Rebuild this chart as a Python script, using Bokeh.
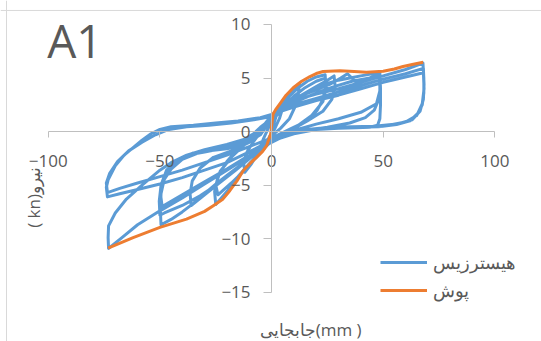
import math
from bokeh.plotting import figure
from bokeh.models import (LinearAxis, FixedTicker, Range1d, Label, Span,
                          Legend, LegendItem)
from bokeh.embed import file_html
from bokeh.resources import INLINE

# ---------------- data ----------------
series_names = ["هیسترزیس", "پوش"]
chart_label = "A1"
x_title = "جابجایی(mm )"
y_title = "( kn)نیرو"
x_ticks = [-100, -50, 0, 50, 100]
y_ticks = [-15, -10, -5, 0, 5, 10]

# hysteresis (displacement mm, force kn), cycle by cycle
c1_x = [0, 2, 4, 5.5, 5, 3.5, 1.5, -1, -3, -5.5, -5, -3.5, -1.5, 0]
c1_y = [0, 1.4, 2.4, 3.0, 2.2, 1.2, 0.3, -0.5, -1.3, -2.1, -1.4, -0.6, 0.3, 0.9]
c2_x = [2, 5, 8, 11, 12.5, 12, 10.5, 8, 4, 0, -3, -6, -9, -12, -12.5, -11, -8, -4, 0]
c2_y = [1.8, 2.8, 3.6, 4.2, 4.5, 3.5, 2.3, 1.2, 0.3, -0.4, -1.0, -2.0, -3.0, -3.8, -2.9, -1.9, -0.9, 0.2, 1.0]
c3_x = [4, 8, 12, 16, 20, 24, 24.3, 23, 20.5, 16, 10, 5, 0, -5, -10, -15, -20, -25, -25.5, -24, -20, -15, -10, -5, 0]
c3_y = [2.3, 3.3, 4.1, 4.7, 5.1, 5.3, 4.3, 3.0, 2.0, 1.0, 0.3, -0.3, -0.9, -1.9, -3.0, -4.2, -5.6, -6.8, -5.6, -4.2, -2.8, -1.6, -0.6, 0.4, 1.2]
c3b_x = [5, 10, 15, 20, 24, 24.5, 23, 18, 12, 6, 0, -6, -12, -18, -24, -25, -23, -18, -12, -6, 0]
c3b_y = [2.3, 3.3, 4.1, 4.7, 5.0, 4.1, 2.8, 1.5, 0.6, -0.2, -0.8, -2.2, -3.6, -4.8, -5.9, -5.0, -3.7, -2.4, -1.2, 0.1, 1.1]
c3c_x = [5, 10, 15, 20, 25, 28, 28.5, 27, 23, 16, 8, 0, -6, -12, -18, -24, -30, -36, -36.5, -35.5, -32, -26, -18, -10, -4, 0]
c3c_y = [2.0, 2.9, 3.6, 4.2, 4.8, 5.2, 4.2, 3.0, 1.9, 1.0, 0.2, -0.6, -1.8, -2.9, -3.9, -4.9, -5.9, -6.9, -5.8, -4.6, -3.4, -2.4, -1.8, -1.0, 0.1, 1.1]
c4_x = [5, 10, 15, 20, 25, 30, 35, 40, 45, 48.5, 48.8, 48.8, 48.5, 47.5, 44, 38, 30, 20, 10, 4, 0,
        -5, -10, -15, -20, -25, -30, -35, -40, -45, -49.5, -49.8, -49.5, -48, -45, -40, -35, -30, -25, -20, -15, -10, -6, -3, 0]
c4_y = [2.3, 3.0, 3.6, 4.1, 4.5, 4.8, 5.0, 5.2, 5.4, 5.5, 4.0, 2.5, 1.2, 0.6, 0.4, 0.35, 0.3, 0.2, -0.2, -0.6, -0.9,
        -1.7, -2.5, -3.3, -4.1, -4.9, -5.8, -6.7, -7.5, -8.2, -8.7, -7.4, -5.8, -4.4, -3.2, -2.5, -2.1, -1.9, -1.7, -1.4, -1.1, -0.8, -0.2, 0.5, 1.3]
c4b_x = [4, 8, 14, 20, 26, 31, 34, 36, 38, 42, 45, 48.5, 48.7, 48, 46, 42, 35, 25, 15, 6, 0,
         -10, -20, -30, -40, -49, -49.7, -48.5, -45, -40, -33, -25, -15, -8, -3, 0]
c4b_y = [2.2, 2.8, 3.4, 3.9, 4.4, 5.0, 5.4, 5.0, 4.6, 4.8, 5.1, 5.3, 4.2, 3.0, 2.0, 1.3, 0.8, 0.4, 0.1, -0.4, -0.8,
         -2.2, -3.5, -4.7, -5.9, -7.0, -5.9, -4.6, -3.5, -2.6, -2.0, -1.7, -1.3, -0.7, 0.4, 1.4]
c4c_x = [5, 12, 20, 28, 36, 44, 48.5, 48.5, 47, 40, 30, 20, 10, 3, 0,
         -8, -16, -24, -32, -40, -48, -50, -50.3, -49.5, -47, -42, -35, -28, -20, -12, -5, 0]
c4c_y = [2.0, 2.9, 3.6, 4.2, 4.7, 5.0, 5.2, 3.8, 2.6, 1.8, 1.2, 0.7, 0.1, -0.5, -0.8,
         -2.2, -3.6, -4.9, -6.0, -6.9, -7.6, -7.8, -6.5, -5.0, -3.6, -2.6, -2.0, -1.8, -1.6, -1.2, -0.3, 1.2]
c5_x = [5, 10, 20, 30, 40, 50, 60, 67.8, 68.2, 68.2, 67.5, 65.5, 62, 56, 48, 38, 28, 18, 10, 4, 0,
        -5, -10, -20, -30, -40, -50, -60, -67, -73, -73.2, -73, -70, -65, -58, -50, -45, -38, -30, -20, -12, -5, 0]
c5_y = [2.3, 2.9, 3.5, 4.0, 4.6, 5.2, 5.8, 6.4, 5.0, 3.6, 2.5, 1.7, 1.0, 0.65, 0.45, 0.4, 0.35, 0.15, -0.2, -0.6, -1.0,
        -1.6, -2.3, -3.6, -4.9, -6.2, -7.4, -8.7, -9.9, -10.9, -9.9, -8.8, -7.6, -6.3, -5.0, -3.6, -2.9, -2.2, -1.7, -1.2, -0.7, 0.2, 1.5]
c5b_x = [10, 20, 30, 40, 50, 60, 68, 68.3, 68, 66.5, 63, 56, 46, 36, 26, 16, 8, 0,
         -10, -20, -30, -40, -50, -60, -68, -73.5, -74, -73.2, -70, -66, -62, -58, -54, -50, -45, -35, -25, -15, -5, 0]
c5b_y = [2.5, 3.1, 3.7, 4.3, 4.9, 5.4, 5.9, 4.4, 3.0, 1.9, 1.1, 0.7, 0.5, 0.45, 0.4, 0.2, -0.2, -0.8,
         -1.9, -2.9, -3.6, -4.3, -4.9, -5.4, -5.8, -6.1, -5.2, -4.5, -3.2, -2.2, -1.5, -0.8, -0.2, 0.2, 0.45, 0.6, 0.8, 1.0, 1.3, 1.6]
c5c_x = [10, 20, 30, 40, 50, 60, 68, 68.3, 67.5, 65, 60, 50, 40, 30, 20, 10, 0,
         -10, -20, -30, -40, -50, -60, -68, -73.5, -74, -72.5, -69, -64, -58, -52, -46, -38, -28, -18, -8, 0]
c5c_y = [2.3, 2.9, 3.4, 4.0, 4.6, 5.1, 5.5, 4.0, 2.6, 1.5, 0.9, 0.5, 0.4, 0.3, 0.2, -0.1, -0.6,
         -1.4, -2.2, -2.9, -3.6, -4.2, -4.8, -5.3, -5.7, -4.8, -3.9, -2.8, -1.8, -1.0, -0.3, 0.2, 0.45, 0.6, 0.8, 1.1, 1.4]

hyst_x = c1_x + c2_x + c3_x + c3b_x + c3c_x + c4_x + c4b_x + c4c_x + c5_x + c5b_x + c5c_x
hyst_y = c1_y + c2_y + c3_y + c3b_y + c3c_y + c4_y + c4b_y + c4c_y + c5_y + c5b_y + c5c_y

# pushover envelope
push_x = [-73.2, -62, -50.0, -38.1, -30.0, -26.1, -22.0, -18.7, -15.5, -12.7, -9.5, -6.7, -4.0, -2.2, -0.4,
          0.7, 2.0, 3.7, 6.5, 9.7, 13.5, 17.2, 20.0, 23.1, 30.6, 37.0, 42.5, 50.0, 55.0, 58.9, 63.5, 67.9]
push_y = [-10.88, -9.9, -8.95, -8.17, -7.45, -6.92, -6.35, -5.52, -4.60, -3.65, -2.95, -2.40, -1.85, -1.31, -0.22,
          1.65, 2.10, 2.59, 3.40, 4.09, 4.70, 5.14, 5.42, 5.61, 5.67, 5.62, 5.55, 5.64, 5.85, 6.08, 6.28, 6.48]

BLUE = "#5B9BD5"
ORANGE = "#ED7D31"
TEXT = "#595959"
AXIS = "#BFBFBF"
FONT = "Open Sans"

p = figure(width=541, height=341, output_backend="svg", toolbar_location=None,
           x_range=Range1d(-121.4, 120.9), y_range=Range1d(-19.60, 12.24),
           x_axis_type=None, y_axis_type=None, min_border=0)
p.outline_line_color = None
p.background_fill_color = "white"
p.border_fill_color = "white"

xaxis = LinearAxis(fixed_location=0, bounds=(-100, 100),
                   ticker=FixedTicker(ticks=x_ticks))
yaxis = LinearAxis(fixed_location=0, bounds=(-15, 10),
                   ticker=FixedTicker(ticks=y_ticks))
for ax, tout, stand in ((xaxis, 6, 17), (yaxis, 8, 13)):
    ax.axis_line_color = AXIS
    ax.axis_line_width = 1
    ax.major_tick_line_color = AXIS
    ax.major_tick_in = 0
    ax.major_tick_out = tout
    ax.minor_tick_in = 0
    ax.minor_tick_out = 0
    ax.major_label_text_font = FONT
    ax.major_label_text_font_size = "17px"
    ax.major_label_text_color = TEXT
    ax.major_label_standoff = stand
p.add_layout(xaxis, "below")
p.add_layout(yaxis, "left")

# chart border (left & top edges visible)
p.add_layout(Span(location=11.31, dimension="width", line_color="#D9D9D9", line_width=1))
p.add_layout(Span(location=-118.7, dimension="height", line_color="#D9D9D9", line_width=1))

r_h = p.line(hyst_x, hyst_y, line_color=BLUE, line_width=3, line_join="round")
r_p = p.line(push_x, push_y, line_color=ORANGE, line_width=3, line_join="round")

legend = Legend(items=[LegendItem(label=series_names[0], renderers=[r_h]),
                       LegendItem(label=series_names[1], renderers=[r_p])],
                location=(380, 39))
legend.glyph_width = 47
legend.glyph_height = 20
legend.label_height = 20
legend.spacing = 4
legend.padding = 0
legend.margin = 0
legend.label_standoff = 6
legend.border_line_color = None
legend.background_fill_alpha = 0
legend.label_text_font = FONT
legend.label_text_font_size = "18px"
legend.label_text_color = TEXT
p.add_layout(legend)

p.add_layout(Label(x=-100.5, y=5.7, text=chart_label, text_font=FONT,
                   text_font_size="46px", text_color=TEXT))
p.add_layout(Label(x=17.5, y=-18.45, text=x_title, text_font=FONT,
                   text_font_size="17px", text_color=TEXT,
                   text_align="center", text_baseline="alphabetic"))
p.add_layout(Label(x=-106.6, y=-6.15, text=y_title, text_font=FONT,
                   text_font_size="17px", text_color=TEXT, angle=math.pi / 2,
                   text_align="center", text_baseline="middle"))

open("out.html", "w").write(file_html(p, INLINE))
